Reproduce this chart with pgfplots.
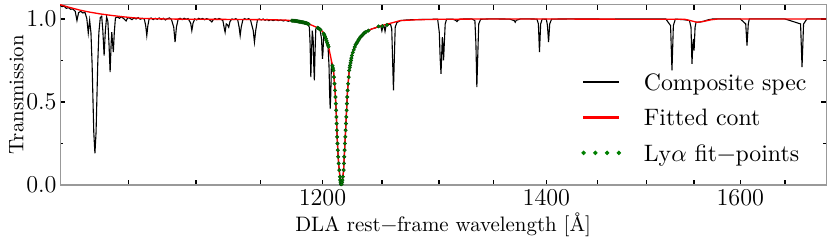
\documentclass[border=0pt]{standalone}
\usepackage{fontspec}
\usepackage{pgfplots}
\pgfplotsset{compat=1.18}
\usetikzlibrary{calc}
\definecolor{dgreen}{rgb}{0,0.5,0}
\definecolor{dgreenedge}{rgb}{0,0.3,0}
\pgfplotsset{
  greendots/.style={legend image code/.code={\foreach \xx in {0,5.33,10.67,16} {\fill[dgreen] (\xx pt,0pt) circle (0.8pt);}}},
  blackbar/.style={legend image code/.code={\fill[black] (0pt,-0.22pt) rectangle (16pt,0.22pt);}},
  redbar/.style={legend image code/.code={\fill[red] (0pt,-0.25pt) rectangle (16pt,0.25pt);}},
}
\begin{document}
\begin{tikzpicture}
\begin{axis}[
  scale only axis, width=348.2pt, height=82.05pt,
  xmode=log, xmin=1001.7, xmax=1697.4, ymin=0, ymax=1.087,
  xtick={1050,1100,1150,1200,1250,1300,1350,1400,1450,1500,1550,1600,1650},
  xticklabels={,,,1200,,,,1400,,,,1600,},
  minor xtick={},
  ytick={0,0.5,1}, yticklabels={0.0,0.5,1.0},
  minor ytick={0.25,0.75},
  tick align=inside, tick pos=both,
  major tick length=2.4pt, minor tick length=1.4pt,
  every tick/.style={black, line width=0.7pt},
  axis line style={black!40, line width=0.5pt},
  xticklabel style={font=\fontsize{11}{13}\selectfont, anchor=base, yshift=-9.1pt},
  yticklabel style={font=\fontsize{11}{13}\selectfont, anchor=east, inner xsep=0pt, xshift=-1.4pt},
  xlabel={DLA rest−frame wavelength [Å]},
  xlabel style={font=\fontsize{9.5}{11}\selectfont, at={(axis description cs:0.5,-0.2576)}, anchor=base},
  ylabel={Transmission},
  ylabel style={font=\fontsize{9.5}{11}\selectfont, at={(axis description cs:-0.0479,0.5)}, anchor=base},
  legend style={draw=none, fill=none, at={(0.6805,0.629)}, anchor=north west, inner sep=0pt, outer sep=0pt,
    font=\fontsize{10.8}{13}\selectfont, row sep=6.5pt,
    nodes={inner sep=0pt, text height=8.5pt, text depth=1.1pt},
    /tikz/every odd column/.append style={column sep=10.4pt}},
  legend cell align=left,
]
\addlegendimage{blackbar}
\addlegendentry{Composite spec}
\addlegendimage{redbar}
\addlegendentry{Fitted cont}
\addlegendimage{greendots}
\addlegendentry{Ly$\alpha$ fit−points}
\addplot[black, line width=0.5pt, forget plot] table {
x y
1001.7 1.082
1003 1.074
1004.5 1.077
1006 1.064
1007.5 1.068
1009 1.058
1010.5 1.061
1012.2 1.045
1013.4 0.990
1014.5 1.038
1016 1.046
1017.5 1.036
1019 1.040
1020.3 1.002
1021.3 0.915
1022.3 0.992
1023.2 0.917
1024.0 0.728
1024.6 0.520
1025.2 0.316
1026.0 0.190
1026.8 0.316
1027.4 0.520
1028.0 0.728
1028.8 0.917
1029.8 1.008
1030.8 1.016
1031.6 0.93
1032.5 0.78
1033.4 0.93
1034.3 1.012
1035.2 0.985
1036.0 0.85
1036.8 0.68
1037.5 0.85
1038.0 0.92
1038.5 0.86
1039.1 0.80
1039.8 0.92
1040.6 1.006
1042 1.012
1043.5 1.004
1045 1.014
1046.5 1.002
1048.3 0.988
1049.5 1.008
1051 1.004
1052.5 0.996
1054 1.006
1055.5 1.0
1057 1.008
1058.5 0.998
1060 1.004
1061.5 1.0
1062.5 0.96
1063.3 0.90
1064.1 0.96
1065 1.0
1066.5 1.006
1068 0.996
1069.5 1.004
1071 0.998
1072.5 1.006
1074 0.997
1075.5 1.004
1077 0.994
1078.5 1.002
1080 1.006
1081.5 0.998
1083.2 0.95
1084.2 0.86
1085.2 0.95
1086.5 0.998
1088 1.004
1089.5 0.996
1091 1.004
1092.5 0.998
1094 1.002
1095.9 0.975
1096.8 0.93
1097.7 0.975
1099 1.0
1100.5 0.994
1102 1.004
1103.5 0.998
1105 1.003
1106.5 0.995
1108 1.002
1109.5 0.998
1111 0.99
1112 0.982
1113 0.995
1114.5 1.002
1116 0.996
1117.5 1.003
1119 0.998
1120.5 0.99
1121.4 0.95
1122.2 0.92
1123.1 0.97
1124 0.965
1125 0.95
1126 0.985
1127.5 1.0
1129 0.996
1130.5 1.002
1132 0.994
1133.1 0.95
1133.9 0.90
1134.7 0.95
1136 0.995
1137.5 1.002
1139 0.996
1140.5 1.002
1142 0.994
1144.1 0.93
1145.1 0.86
1146.1 0.93
1147.5 0.996
1149 1.0
1150.5 0.994
1152 1.0
1153.5 0.992
1155 0.998
1156.5 0.99
1158 0.996
1160 0.99
1162 0.996
1164 0.99
1166 0.994
1168 0.988
1170 0.992
1172 0.986
1174 0.99
1176 0.984
1178 0.988
1180 0.981
1182 0.983
1184 0.976
1186 0.976
1188 0.968
1189.2 0.95
1189.8 0.85
1190.4 0.65
1191.0 0.80
1191.6 0.93
1192.3 0.88
1192.8 0.72
1193.3 0.63
1193.9 0.80
1194.5 0.94
1195.5 0.948
1196.7 0.944
1198 0.936
1199.2 0.88
1199.7 0.80
1200.0 0.76
1200.4 0.80
1201.0 0.90
1202.2 0.893
1203.5 0.866
1204.5 0.844
1205.4 0.72
1205.9 0.55
1206.4 0.46
1206.9 0.55
1207.4 0.74
1208.3 0.718
1209.1 0.69
1210.5 0.562
1211.4 0.44
1212.0 0.32
1212.8 0.20
1213.5 0.12
1214.1 0.08
1214.7 0.03
1215.3 0.005
1216.0 0.005
1216.6 0.03
1217.5 0.08
1218.3 0.20
1219.2 0.32
1220.0 0.44
1220.8 0.56
1222.3 0.69
1224.5 0.78
1227.3 0.84
1231.6 0.89
1235.8 0.92
1238.6 0.93
1241.5 0.94
1244 0.945
1246 0.95
1248 0.952
1249.2 0.955
1250.1 0.928
1251.0 0.955
1251.9 0.957
1252.8 0.925
1253.7 0.96
1255.5 0.965
1257.5 0.97
1258.6 0.94
1259.4 0.75
1260.1 0.57
1260.8 0.75
1261.6 0.95
1263 0.978
1266 0.99
1270 0.993
1275 0.995
1280 0.996
1285 0.997
1290 0.997
1295 0.998
1299 0.998
1300.5 0.92
1301.3 0.76
1302.0 0.67
1302.7 0.80
1303.2 0.89
1303.7 0.85
1304.3 0.75
1305.0 0.86
1305.8 0.97
1307 0.998
1310 0.999
1313 0.998
1315.6 0.99
1316.4 0.984
1317.2 0.992
1320 0.999
1325 1.0
1330 1.0
1332.8 0.99
1333.7 0.85
1334.6 0.59
1335.5 0.80
1336.3 0.97
1338 0.998
1345 1.0
1355 1.0
1365 0.999
1369.4 0.99
1370.3 0.98
1371.2 0.992
1375 1.0
1385 1.0
1391 0.999
1392.3 0.97
1393.4 0.80
1394.5 0.97
1396 0.999
1400 0.998
1401.0 0.96
1402.1 0.86
1403.2 0.97
1405 0.999
1420 1.0
1440 1.0
1460 0.999
1480 1.0
1500 1.0
1520 1.0
1525.0 0.96
1526.5 0.69
1528.0 0.96
1530 0.999
1535 0.997
1540 0.995
1545 0.99
1546.6 0.95
1547.6 0.73
1548.6 0.85
1549.2 0.88
1549.9 0.81
1550.9 0.95
1552 0.98
1556 0.981
1560 0.986
1565 0.995
1570 1.0
1590 1.0
1600 1.0
1606.0 0.97
1607.4 0.84
1608.8 0.97
1610 1.0
1630 1.0
1650 1.0
1667.8 0.97
1669.5 0.71
1671.2 0.97
1675 1.0
1697.4 1.0
};
\addplot[red, line width=0.6pt, forget plot] table {
x y
1001.7 1.086
1008 1.070
1016 1.052
1023 1.040
1030 1.030
1038 1.021
1045 1.014
1052 1.008
1060 1.003
1070 1.001
1085 0.999
1100 0.998
1130 0.997
1160 0.995
1170 0.993
1178 0.988
1184 0.980
1187 0.974
1192 0.960
1196.7 0.944
1200 0.925
1202.2 0.893
1205.0 0.833
1209.1 0.690
1210.5 0.562
1211.4 0.44
1212.0 0.32
1212.8 0.20
1213.5 0.12
1214.1 0.08
1214.7 0.03
1215.3 0.005
1216.0 0.005
1216.6 0.03
1217.5 0.08
1218.3 0.20
1219.2 0.32
1220.0 0.44
1220.8 0.56
1222.3 0.69
1224.5 0.78
1227.3 0.84
1231.6 0.89
1235.8 0.92
1241.5 0.94
1250 0.96
1258 0.975
1266 0.99
1280 0.995
1300 0.998
1350 1.0
1540 0.998
1546 0.99
1553 0.98
1560 0.985
1568 0.995
1576 1.0
1697.4 1.0
};
\addplot[only marks, mark=*, mark size=0.8pt, mark options={fill=dgreen, draw=dgreenedge, line width=0.2pt}, forget plot] table {
x y
1175.0 0.990
1175.8 0.989
1176.6 0.989
1177.4 0.988
1178.2 0.988
1179.0 0.987
1179.8 0.986
1180.6 0.984
1181.4 0.983
1182.2 0.982
1183.0 0.981
1183.8 0.980
1184.6 0.979
1185.4 0.977
1186.2 0.976
1187.0 0.974
1187.8 0.972
1188.6 0.969
1196.0 0.947
1196.6 0.944
1197.2 0.941
1197.8 0.938
1198.4 0.934
1200.9 0.912
1201.5 0.903
1202.1 0.895
1202.7 0.882
1203.3 0.870
1203.9 0.857
1204.5 0.844
1205.0 0.833
1208.3 0.718
1208.7 0.704
1209.1 0.69
1209.54 0.65
1209.98 0.61
1210.41 0.57
1210.74 0.53
1211.03 0.49
1211.33 0.45
1211.55 0.41
1211.75 0.37
1211.95 0.33
1212.2 0.29
1212.47 0.25
1212.73 0.21
1213.06 0.17
1213.41 0.13
1213.95 0.09
1214.46 0.05
1214.7 0.03
1215.0 0.017
1215.3 0.005
1215.6 0.005
1215.9 0.005
1216.3 0.017
1216.6 0.03
1216.96 0.05
1217.57 0.09
1217.83 0.13
1218.1 0.17
1218.38 0.21
1218.68 0.25
1218.98 0.29
1219.27 0.33
1219.53 0.37
1219.8 0.41
1220.07 0.45
1220.33 0.49
1220.6 0.53
1220.92 0.57
1221.38 0.61
1221.84 0.65
1222.3 0.69
1222.7 0.707
1223.03 0.72
1223.4 0.735
1223.77 0.75
1224.1 0.764
1224.5 0.78
1225.3 0.797
1226.1 0.814
1226.9 0.831
1227.7 0.845
1228.5 0.854
1229.3 0.863
1230.1 0.873
1230.9 0.882
1231.7 0.891
1232.5 0.896
1233.3 0.902
1234.1 0.908
1234.9 0.914
1235.7 0.919
1236.5 0.922
1238.6 0.93
1247.2 0.955
1250.5 0.957
1254.5 0.964
};
\end{axis}
\pgfresetboundingbox
\path[use as bounding box] ($(current axis.south west)+(-27.27pt,-25pt)$) rectangle ($(current axis.north east)+(2.27pt,2.05pt)$);
\end{tikzpicture}
\end{document}
